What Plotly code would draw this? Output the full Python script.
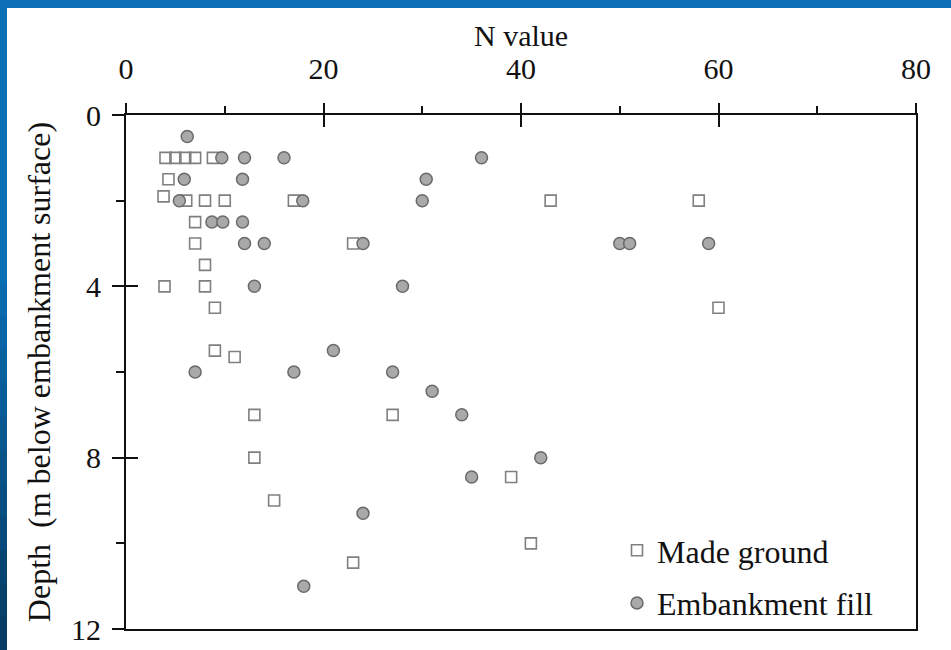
import plotly.graph_objects as go

# ---- data ----
made_n = [4, 5, 6, 7, 8.8, 4.3, 3.8, 6.1, 8, 10, 17, 43, 58, 7, 7, 23, 8, 3.9, 8,
          9, 60, 9, 11, 13, 27, 13, 39, 15, 41, 23]
made_depth = [1.0, 1.0, 1.0, 1.0, 1.0, 1.5, 1.9, 2.0, 2.0, 2.0, 2.0, 2.0, 2.0, 2.5, 3.0, 3.0,
              3.5, 4.0, 4.0, 4.5, 4.5, 5.5, 5.65, 7.0, 7.0, 8.0, 8.45, 9.0, 10.0, 10.45]

emb_n = [6.2, 9.7, 12, 16, 36, 5.9, 11.8, 30.4, 5.4, 17.9, 30, 8.7, 9.8, 11.8,
         12, 14, 24, 50, 51, 59, 13, 28, 21, 7, 17, 27, 31, 34, 42, 35, 24, 18]
emb_depth = [0.5, 1.0, 1.0, 1.0, 1.0, 1.5, 1.5, 1.5, 2.0, 2.0, 2.0, 2.5, 2.5, 2.5,
             3.0, 3.0, 3.0, 3.0, 3.0, 3.0, 4.0, 4.0, 5.5, 6.0, 6.0, 6.0, 6.45, 7.0, 8.0, 8.45, 9.3, 11.0]

x_ticks = [0, 20, 40, 60, 80]
x_minor = [10, 30, 50, 70]
y_ticks = [0, 4, 8, 12]
y_minor = [2, 6, 10]

# ---- layout geometry ----
W, H = 951, 650
L, R, T, B = 126, 35, 115, 21
PW, PH = W - L - R, H - T - B


def px2x(px):
    return (px - L) / PW


def px2y(py):
    return 1 - (py - T) / PH


FONT = "Liberation Serif"
INK = "#111111"

fig = go.Figure()
fig.add_trace(go.Scatter(
    x=made_n, y=made_depth, mode="markers", name="Made ground", legendgroup="a",
    marker=dict(symbol="square-open", size=11, color="#808080", line=dict(width=1.6)),
))
fig.add_trace(go.Scatter(
    x=emb_n, y=emb_depth, mode="markers", name="Embankment fill", legendgroup="b",
    marker=dict(symbol="circle", size=12, color="#a9a9a9", line=dict(width=1.5, color="#6a6a6a")),
))
# dummy trace for overlay axes (inside half of crossing ticks)
fig.add_trace(go.Scatter(x=[None], y=[None], xaxis="x2", yaxis="y2", showlegend=False,
                         hoverinfo="skip"))

axis_common = dict(showgrid=False, zeroline=False, showline=True, linewidth=2,
                   linecolor=INK, mirror=True, tickwidth=2, tickcolor=INK, automargin=False,
                   tickfont=dict(family=FONT, size=30, color=INK))

shapes = [dict(type="rect", xref="paper", yref="paper", layer="below",
               x0=px2x(7), x1=px2x(960), y0=px2y(660), y1=px2y(8),
               fillcolor="white", line=dict(width=0))]
# darker gradient on the left stripe toward the bottom
n_seg = 12
c0 = (11, 111, 181)
c1 = (6, 60, 100)
for i in range(n_seg):
    ya = 250 + i * (400 / n_seg)
    yb = ya + 400 / n_seg + 1
    t = i / (n_seg - 1)
    col = tuple(int(c0[k] + (c1[k] - c0[k]) * t) for k in range(3))
    shapes.append(dict(type="rect", xref="paper", yref="paper", layer="below",
                       x0=px2x(-5), x1=px2x(7), y0=px2y(yb), y1=px2y(ya),
                       fillcolor="rgb(%d,%d,%d)" % col, line=dict(width=0)))

fig.update_layout(
    width=W, height=H,
    margin=dict(l=L, r=R, t=T, b=B),
    paper_bgcolor="#0b6fb5",
    plot_bgcolor="white",
    font=dict(family=FONT, size=30, color=INK),
    shapes=shapes,
    annotations=[dict(text="N value", xref="paper", yref="paper", x=0.5, y=px2y(35),
                      xanchor="center", yanchor="middle", showarrow=False,
                      font=dict(family=FONT, size=30, color=INK))],
    xaxis=dict(side="top", range=[0, 80], tickmode="array", tickvals=x_ticks,
               ticks="outside", ticklen=10, ticklabelstandoff=12,
               minor=dict(tickmode="array", tickvals=x_minor, ticks="outside", ticklen=7,
                          tickwidth=2, tickcolor=INK),
               **axis_common),
    yaxis=dict(range=[12, 0], tickmode="array", tickvals=y_ticks,
               ticks="outside", ticklen=12, ticklabelstandoff=5,
               minor=dict(tickmode="array", tickvals=y_minor, ticks="outside", ticklen=8,
                          tickwidth=2, tickcolor=INK),
               title=dict(text="Depth\u00a0 (m below embankment surface)",
                          font=dict(family=FONT, size=32), standoff=11),
               **axis_common),
    xaxis2=dict(overlaying="x", side="top", range=[0, 80], tickmode="array", tickvals=x_ticks,
                ticks="inside", ticklen=12, tickwidth=2, tickcolor=INK, automargin=False,
                showticklabels=False, showline=False, showgrid=False, zeroline=False),
    yaxis2=dict(overlaying="y", side="left", range=[12, 0], tickmode="array", tickvals=y_ticks,
                ticks="inside", ticklen=12, tickwidth=2, tickcolor=INK, automargin=False,
                showticklabels=False, showline=False, showgrid=False, zeroline=False),
    legend=dict(x=px2x(617), xanchor="left", y=px2y(523), yanchor="top",
                bgcolor="rgba(0,0,0,0)", font=dict(family=FONT, size=32, color=INK),
                tracegroupgap=8, traceorder="grouped"),
    showlegend=True,
)

fig.write_html("out.html", config={"displayModeBar": False},
               post_script="document.body.style.margin='0';document.body.style.overflow='hidden';")
